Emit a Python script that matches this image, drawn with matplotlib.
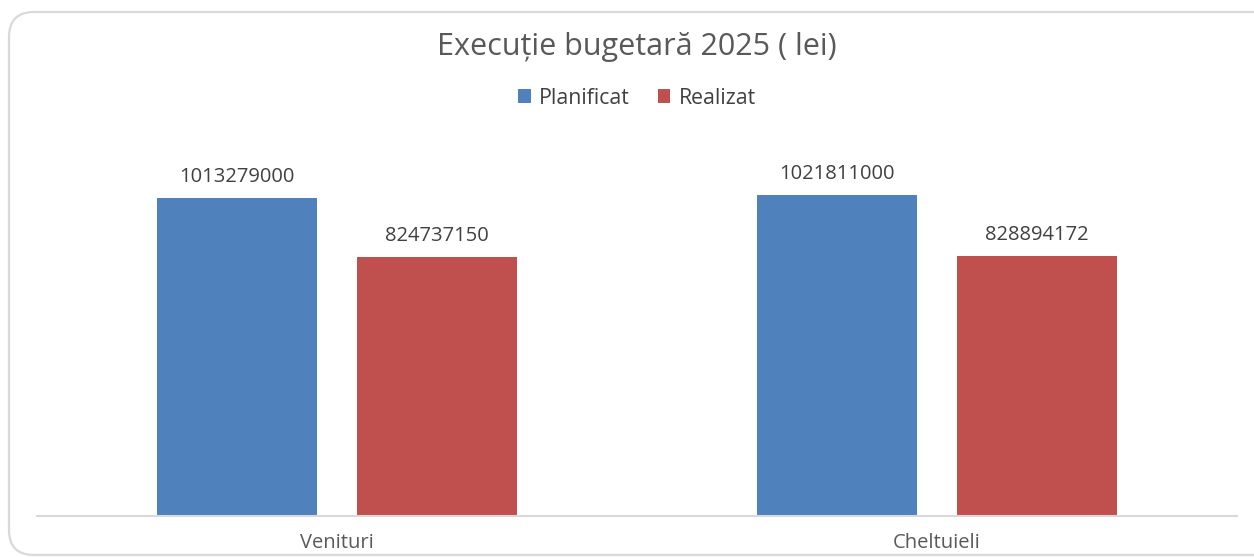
import matplotlib.pyplot as plt
import numpy as np
from matplotlib.patches import FancyBboxPatch

plt.rcParams['font.family'] = ['Open Sans', 'DejaVu Sans']

categories = ['Venituri', 'Cheltuieli']
planificat = [1013279000, 1021811000]
realizat = [824737150, 828894172]
series_names = ['Planificat', 'Realizat']
colors = ['#4F81BD', '#C0504D']

fig = plt.figure(figsize=(12.54, 5.57), dpi=100)

# rounded chart border (inches)
frame = FancyBboxPatch((0.09, 0.02), 12.7, 5.43,
                       boxstyle='round,pad=0,rounding_size=0.25',
                       transform=fig.dpi_scale_trans, facecolor='none',
                       edgecolor='#D9D9D9', linewidth=1.6, zorder=-1)
fig.patches.append(frame)

ax = fig.add_axes([37 / 1254, 41 / 557, 1200 / 1254, 376.6 / 557])
ax.set_facecolor('none')

x = np.arange(len(categories))
w = 0.2667
b1 = ax.bar(x - 0.1667, planificat, w, color=colors[0], label=series_names[0])
b2 = ax.bar(x + 0.1667, realizat, w, color=colors[1], label=series_names[1])

for bars, vals in ((b1, planificat), (b2, realizat)):
    for rect, v in zip(bars, vals):
        ax.annotate(str(v), (rect.get_x() + rect.get_width() / 2, v),
                    xytext=(0, 8), textcoords='offset points',
                    ha='center', va='bottom', fontsize=14.5, color='#404040')

ax.set_xlim(-0.5, 1.5)
ax.set_ylim(0, 1.2e9)
ax.set_xticks(x)
ax.set_xticklabels(categories, fontsize=14.5, color='#595959')
ax.tick_params(axis='x', length=0, pad=12)
ax.set_yticks([])
for s in ['top', 'right', 'left']:
    ax.spines[s].set_visible(False)
ax.spines['bottom'].set_color('#D9D9D9')
ax.spines['bottom'].set_linewidth(1.5)

fig.text(0.508, 1 - 47.5 / 557, 'Execuție bugetară 2025 ( lei)', ha='center',
         va='center', fontsize=22, color='#595959')

fig.legend(loc='center', bbox_to_anchor=(0.508, 1 - 98 / 557), ncol=2,
           frameon=False, fontsize=15.3, handlelength=0.6, handleheight=0.6,
           handletextpad=0.4, columnspacing=1.3,
           labelcolor='#404040')

fig.savefig('out.png', dpi=100)
